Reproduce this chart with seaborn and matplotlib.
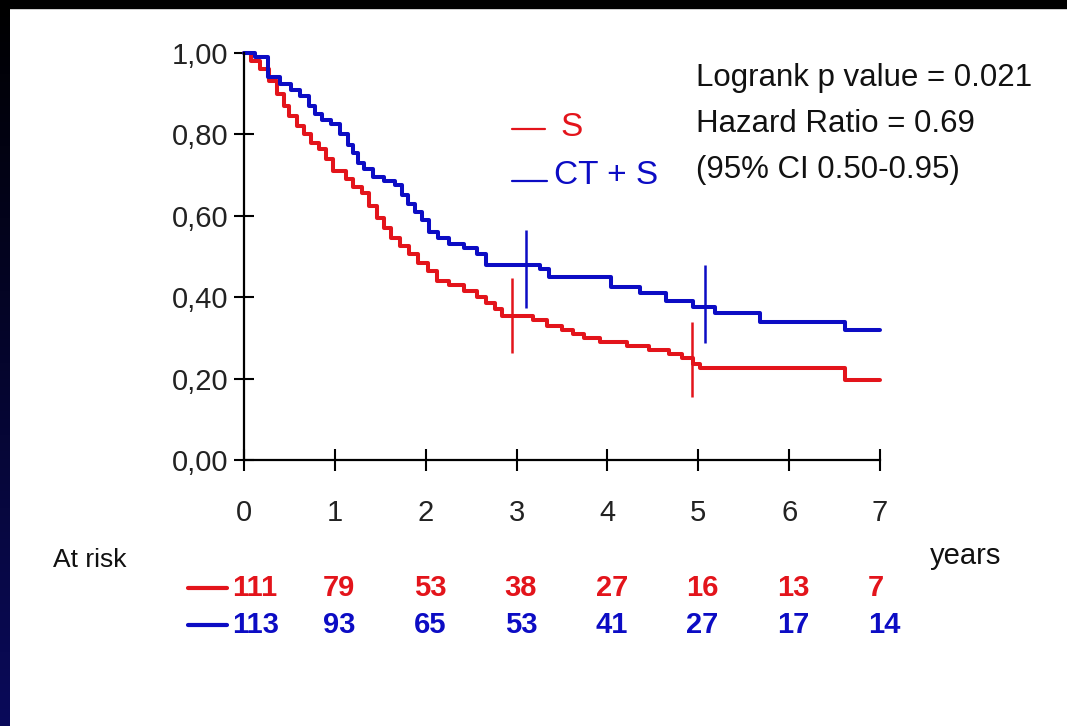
import numpy as np
import pandas as pd
import matplotlib
matplotlib.use("Agg")
import matplotlib.pyplot as plt
from matplotlib.patches import Rectangle
from matplotlib.colors import LinearSegmentedColormap
import seaborn as sns

# Kaplan-Meier steps (years, survival after each step)
s_time = [0.00, 0.08, 0.18, 0.28, 0.36, 0.44, 0.50, 0.58, 0.66, 0.74, 0.82, 0.90,
          0.98, 1.12, 1.20, 1.30, 1.38, 1.46, 1.54, 1.62, 1.72, 1.82, 1.92, 2.02,
          2.12, 2.26, 2.42, 2.56, 2.66, 2.76, 2.84, 3.18, 3.34, 3.50, 3.62, 3.74,
          3.92, 4.22, 4.46, 4.68, 4.82, 4.94, 5.02, 6.62, 7.00]
s_surv = [1.00, 0.98, 0.96, 0.93, 0.90, 0.87, 0.845, 0.82, 0.80, 0.78, 0.765, 0.74,
          0.71, 0.69, 0.67, 0.655, 0.625, 0.595, 0.57, 0.545, 0.525, 0.505, 0.485, 0.465,
          0.44, 0.43, 0.415, 0.40, 0.385, 0.37, 0.355, 0.345, 0.33, 0.32, 0.31, 0.30,
          0.29, 0.28, 0.27, 0.26, 0.25, 0.235, 0.225, 0.197, 0.197]

cts_time = [0.00, 0.12, 0.26, 0.40, 0.52, 0.62, 0.72, 0.78, 0.86, 0.96, 1.06, 1.14,
            1.20, 1.26, 1.32, 1.42, 1.54, 1.66, 1.74, 1.80, 1.88, 1.96, 2.04, 2.14,
            2.26, 2.42, 2.56, 2.66, 3.26, 3.36, 4.04, 4.36, 4.64, 4.94, 5.18, 5.68,
            6.62, 7.00]
cts_surv = [1.00, 0.99, 0.94, 0.925, 0.91, 0.895, 0.87, 0.85, 0.835, 0.825, 0.80, 0.775,
            0.755, 0.73, 0.715, 0.695, 0.685, 0.675, 0.65, 0.63, 0.61, 0.59, 0.56, 0.545,
            0.53, 0.52, 0.505, 0.48, 0.47, 0.45, 0.425, 0.41, 0.39, 0.375, 0.36, 0.34,
            0.32, 0.32]

# vertical marks at about 3 and 5 years
s_mark_time = [2.95, 4.93]
s_mark_lo = [0.262, 0.155]
s_mark_hi = [0.447, 0.340]
cts_mark_time = [3.10, 5.07]
cts_mark_lo = [0.373, 0.287]
cts_mark_hi = [0.565, 0.479]

years = [0, 1, 2, 3, 4, 5, 6, 7]
s_at_risk = [111, 79, 53, 38, 27, 16, 13, 7]
cts_at_risk = [113, 93, 65, 53, 41, 27, 17, 14]

y_ticks = [0.0, 0.2, 0.4, 0.6, 0.8, 1.0]
y_labels = ["0,00", "0,20", "0,40", "0,60", "0,80", "1,00"]

stats_lines = ["Logrank p value = 0.021", "Hazard Ratio = 0.69", "(95% CI 0.50-0.95)"]

RED = "#e3141b"
BLUE = "#0c0cc4"

sns.set_theme(style="white")
plt.rcParams["font.family"] = ["Liberation Sans", "DejaVu Sans"]

df = pd.DataFrame({
    "time": s_time + cts_time,
    "surv": s_surv + cts_surv,
    "arm": ["S"] * len(s_time) + ["CT + S"] * len(cts_time),
})

fig = plt.figure(figsize=(10.67, 7.26), dpi=100, facecolor="white")
ax = fig.add_axes([244 / 1067, 1 - 460 / 726, 636 / 1067, 407 / 726])

sns.lineplot(data=df, x="time", y="surv", hue="arm", palette={"S": RED, "CT + S": BLUE},
             drawstyle="steps-post", estimator=None, sort=False, lw=2.9,
             legend=False, ax=ax, clip_on=False)

ax.vlines(s_mark_time, s_mark_lo, s_mark_hi, color=RED, lw=1.8, clip_on=False)
ax.vlines(cts_mark_time, cts_mark_lo, cts_mark_hi, color=BLUE, lw=1.8, clip_on=False)

ax.set_xlim(0, 7)
ax.set_ylim(0, 1)
ax.set_xticks(years)
ax.set_xticklabels([str(y) for y in years])
ax.set_yticks(y_ticks)
ax.set_yticklabels(y_labels)
ax.set_xlabel("")
ax.set_ylabel("")
ax.set_facecolor("white")
sns.despine(ax=ax)
for side in ["left", "bottom"]:
    ax.spines[side].set_color("black")
    ax.spines[side].set_linewidth(1.6)
ax.tick_params(axis="y", direction="inout", length=14, width=1.5, color="black",
               labelsize=21, labelcolor="#222222", pad=4, left=True)
ax.tick_params(axis="x", direction="inout", length=16, width=1.5, color="black",
               labelsize=21, labelcolor="#222222", pad=20, bottom=True)

# stats text
tr = ax.get_xaxis_transform()
for i, line in enumerate(stats_lines):
    ax.text(4.98, 0.939 - i * 0.113, line, transform=tr, fontsize=22.5,
            ha="left", va="center", color="#111111")

# legend drawn by hand
ax.plot([2.95, 3.31], [0.813, 0.813], transform=tr, color=RED, lw=1.6)
ax.text(3.48, 0.818, "S", transform=tr, fontsize=24, color=RED, ha="left", va="center")
ax.plot([2.95, 3.33], [0.686, 0.686], transform=tr, color=BLUE, lw=1.6)
ax.text(3.41, 0.698, "CT + S", transform=tr, fontsize=24, color=BLUE, ha="left", va="center")

# at risk table
ax.text(-2.1, -0.246, "At risk", transform=tr, fontsize=19, ha="left", va="center",
        color="#111111")
ax.text(7.55, -0.235, "years", transform=tr, fontsize=21, ha="left", va="center",
        color="#111111")
ax.plot([-0.62, -0.19], [-0.315, -0.315], transform=tr, color=RED, lw=3, clip_on=False)
ax.plot([-0.62, -0.19], [-0.405, -0.405], transform=tr, color=BLUE, lw=3, clip_on=False)
for y, n_s, n_c in zip(years, s_at_risk, cts_at_risk):
    ax.text(y - 0.13, -0.315, str(n_s), transform=tr, fontsize=21, fontweight="bold",
            color=RED, ha="left", va="center")
    ax.text(y - 0.13, -0.405, str(n_c), transform=tr, fontsize=21, fontweight="bold",
            color=BLUE, ha="left", va="center")

# slide frame: black band on top, dark strip at left
fig.add_artist(Rectangle((0, 1 - 8 / 726), 1, 8 / 726, transform=fig.transFigure,
                         color="black", zorder=10))
lax = fig.add_axes([0, 0, 10 / 1067, 1])
grad = np.linspace(0, 1, 256).reshape(-1, 1)
lax.imshow(grad, aspect="auto", cmap=LinearSegmentedColormap.from_list("edge", ["#000000", "#0a0a5a"]))
lax.axis("off")

fig.savefig("out.png", dpi=100, facecolor="white")
